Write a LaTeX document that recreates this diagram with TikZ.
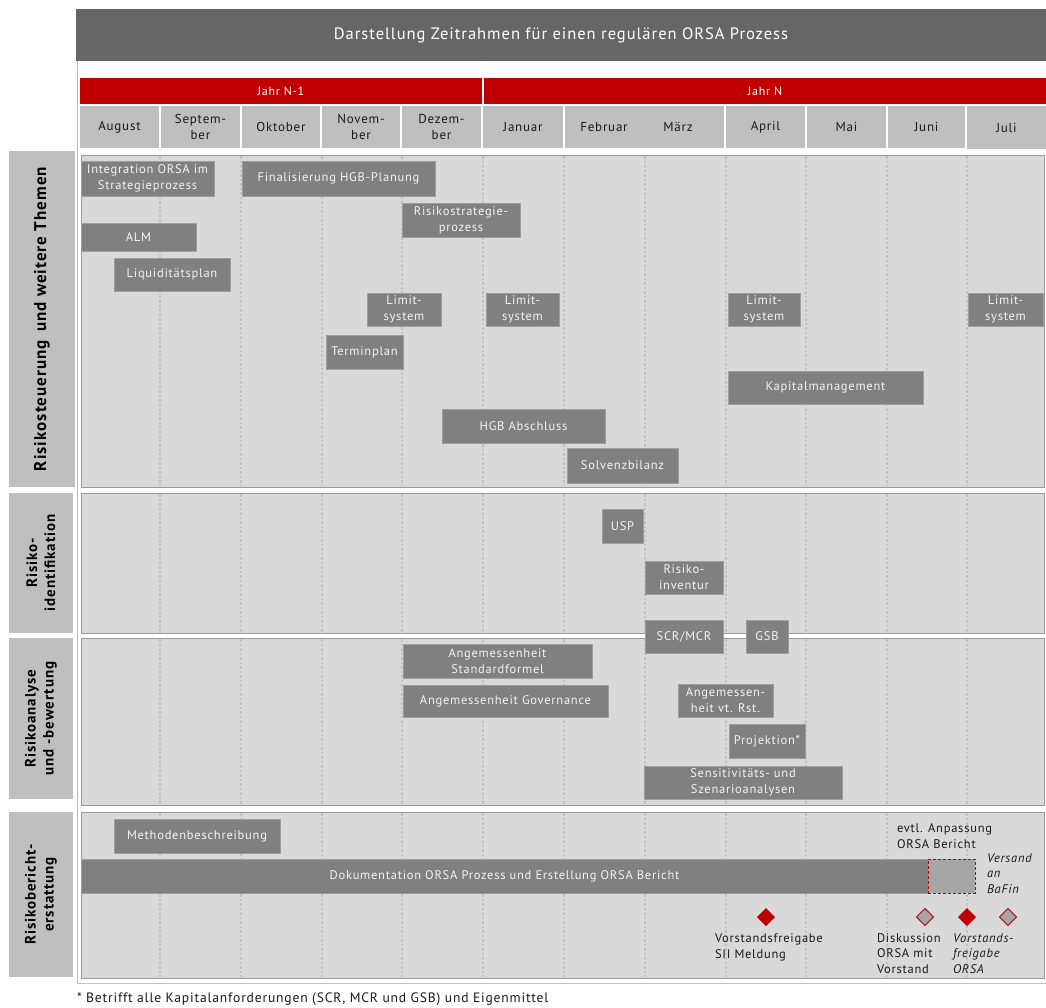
\documentclass[tikz,border=0pt]{standalone}
\usepackage{fontspec}
\setmainfont{PT Sans}[LetterSpace=6]
\usetikzlibrary{shapes.geometric}
\definecolor{titlegray}{HTML}{666666}
\definecolor{yearred}{HTML}{C00000}
\definecolor{cellgray}{HTML}{BFBFBF}
\definecolor{panelgray}{HTML}{D9D9D9}
\definecolor{bargray}{HTML}{808080}
\definecolor{framegray}{HTML}{9A9A9A}
\definecolor{gridgray}{HTML}{C2C2C2}
\definecolor{softgray}{HTML}{A6A6A6}
\definecolor{bartext}{HTML}{F4F4F4}
\definecolor{inktext}{HTML}{1A1A1A}

% rectangle node from its corner coordinates: style, x1, y1, x2, y2, name, text
\newcommand\cellbox[7]{%
  \node[#1, minimum width={#4-#2}, minimum height={#5-#3}]
    (#6) at ({(#2+#4)/2},{(#3+#5)/2}) {#7};}

\begin{document}
\begin{tikzpicture}[x=1pt,y=-1pt,
  every node/.style={inner sep=0pt, outer sep=0pt},
  titlebar/.style={fill=titlegray, text=white, font=\fontsize{16.5}{19}\selectfont},
  yearbar/.style={fill=yearred, text=white, font=\fontsize{12}{14}\selectfont},
  monthcell/.style={fill=cellgray, text=inktext, align=center, font=\fontsize{13}{16}\selectfont},
  sidebox/.style={fill=cellgray},
  sidelabel/.style={rotate=90, align=center, text=black, font=\bfseries\fontsize{15}{18}\selectfont},
  panel/.style={fill=panelgray, draw=framegray, line width=1pt},
  gridline/.style={draw=gridgray, line width=1.1pt, dash pattern=on 2.5pt off 2pt},
  bar/.style={fill=bargray, draw=softgray!80!bargray, line width=0.6pt, text=bartext, align=center,
    font=\fontsize{12.5}{16}\selectfont},
  pending/.style={fill=softgray, draw=yearred, line width=1pt, dash pattern=on 3pt off 2pt},
  note/.style={text=inktext, align=left, font=\fontsize{12.5}{15.3}\selectfont},
  slanted note/.style={note, font=\itshape\fontsize{12.5}{15.3}\selectfont},
  milestone/.style={diamond, minimum size=18pt, fill=yearred},
  openmilestone/.style={diamond, minimum size=17pt, fill=softgray, draw=yearred, line width=1pt},
]
\useasboundingbox (0,0) rectangle (1046,1007);
\fill[white] (0,0) rectangle (1046,1007);

% outer frame lines of the chart area
\draw[framegray!70, line width=0.8pt] (77,61) -- (77,983);
\draw[gridgray, line width=0.8pt] (77,983) -- (1046,983);

% title
\cellbox{titlebar}{76}{9}{1046}{61}{title}{Darstellung Zeitrahmen für einen regulären ORSA Prozess}

% years
\cellbox{yearbar}{80}{78}{482}{104}{yearA}{Jahr N-1}
\cellbox{yearbar}{484}{78}{1046}{104}{yearB}{Jahr N}

% months
\cellbox{monthcell}{80}{106}{159}{148}{mAug}{August}
\cellbox{monthcell}{161}{106}{240}{148}{mSep}{Septem-\\ber}
\cellbox{monthcell}{242}{106}{320}{148}{mOkt}{Oktober}
\cellbox{monthcell}{322}{106}{400}{148}{mNov}{Novem-\\ber}
\cellbox{monthcell}{402}{106}{481}{148}{mDez}{Dezem-\\ber}
\cellbox{monthcell}{483}{106}{563}{148}{mJan}{Januar}
\cellbox{monthcell}{565}{106}{724}{148}{mFebMar}{}
\node[monthcell, fill=none] (mFeb) at (604,127) {Februar};
\node[monthcell, fill=none] (mMar) at (678,127) {März};
\cellbox{monthcell}{726}{106}{805}{148}{mApr}{April}
\cellbox{monthcell}{807}{106}{886}{148}{mMai}{Mai}
\cellbox{monthcell}{888}{106}{965}{148}{mJun}{Juni}
\cellbox{monthcell}{967}{106}{1046}{149}{mJul}{Juli}

% row labels
\cellbox{sidebox}{9}{151}{75}{487}{sA}{}
\cellbox{sidebox}{9}{493}{73}{633}{sB}{}
\cellbox{sidebox}{9}{638}{73}{799}{sC}{}
\cellbox{sidebox}{9}{812}{73}{977}{sD}{}
\node[sidelabel, font=\bfseries\fontsize{17}{20}\selectfont] (lA) at (sA.center) {Risikosteuerung\, und weitere Themen};
\node[sidelabel] (lB) at (sB.center) {Risiko-\\identifikation};
\node[sidelabel] (lC) at (sC.center) {Risikoanalyse\\und -bewertung};
\node[sidelabel] (lD) at (sD.center) {Risikobericht-\\erstattung};

% panels
\cellbox{panel}{81}{155}{1044}{487}{pA}{}
\cellbox{panel}{81}{493}{1044}{633}{pB}{}
\cellbox{panel}{81}{638}{1044}{805}{pC}{}
\cellbox{panel}{81}{812}{1044}{978}{pD}{}

% month boundaries
\foreach \gx in {160,241,322,402,483,564,645,726,806,887,967}{
  \foreach \ya/\yb in {156/486,494/632,639/804,813/977}{
    \draw[gridline] (\gx,\ya) -- (\gx,\yb);
  }
}

% Risikosteuerung und weitere Themen
\cellbox{bar}{81}{161}{214}{196}{bInteg}{Integration ORSA im\\Strategieprozess}
\cellbox{bar}{242}{161}{435}{196}{bFinal}{Finalisierung HGB-Planung}
\cellbox{bar}{402}{203}{520}{237}{bStrat}{Risikostrategie-\\prozess}
\cellbox{bar}{81}{223}{196}{251}{bALM}{ALM}
\cellbox{bar}{114}{258}{230}{291}{bLiq}{Liquiditätsplan}
\cellbox{bar}{367}{293}{441}{326}{bLimA}{Limit-\\system}
\cellbox{bar}{486}{293}{559}{326}{bLimB}{Limit-\\system}
\cellbox{bar}{728}{293}{800}{326}{bLimC}{Limit-\\system}
\cellbox{bar}{968}{293}{1043}{326}{bLimD}{Limit-\\system}
\cellbox{bar}{326}{335}{403}{369}{bTermin}{Terminplan}
\cellbox{bar}{728}{371}{923}{404}{bKapital}{Kapitalmanagement}
\cellbox{bar}{442}{409}{605}{443}{bHGB}{HGB Abschluss}
\cellbox{bar}{567}{448}{678}{483}{bSolv}{Solvenzbilanz}

% Risikoidentifikation
\cellbox{bar}{602}{509}{643}{543}{bUSP}{USP}
\cellbox{bar}{645}{561}{723}{594}{bInv}{Risiko-\\inventur}
\cellbox{bar}{645}{620}{723}{653}{bSCR}{SCR/MCR}
\cellbox{bar}{746}{620}{788}{653}{bGSB}{GSB}

% Risikoanalyse und -bewertung
\cellbox{bar}{403}{644}{592}{678}{bStd}{Angemessenheit\\Standardformel}
\cellbox{bar}{403}{685}{608}{717}{bGov}{Angemessenheit Governance}
\cellbox{bar}{678}{684}{773}{717}{bRst}{Angemessen-\\heit vt. Rst.}
\cellbox{bar}{729}{724}{805}{758}{bProj}{Projektion*}
\cellbox{bar}{644}{766}{842}{799}{bSens}{Sensitivitäts- und\\Szenarioanalysen}

% Risikoberichterstattung
\cellbox{bar}{114}{819}{280}{853}{bMeth}{Methodenbeschreibung}
\cellbox{bar}{81}{859}{928}{893}{bDoku}{Dokumentation ORSA Prozess und Erstellung ORSA Bericht}
\cellbox{pending}{928}{859}{975}{893}{bAnp}{}
\node[note, anchor=base west] (tAnp) at (897,848) {evtl. Anpassung\\ORSA Bericht};
\node[slanted note, anchor=base west] (tVers) at (987,893) {Versand\\an\\BaFin};

\node[milestone] (dSII) at (766,917) {};
\node[openmilestone] (dDisk) at (925,917) {};
\node[milestone] (dFrei) at (967,917) {};
\node[openmilestone] (dVers) at (1008,917) {};
\node[note, anchor=base west] (tSII) at (715,958) {Vorstandsfreigabe\\SII Meldung};
\node[note, anchor=base west] (tDisk) at (877,973) {Diskussion\\ORSA mit\\Vorstand};
\node[slanted note, anchor=base west] (tFrei) at (953,973) {Vorstands-\\freigabe\\ORSA};

% footnote
\node[anchor=base west, text=inktext, font=\fontsize{13.6}{16}\selectfont] (foot) at (77,1002)
  {* Betrifft alle Kapitalanforderungen (SCR, MCR und GSB) und Eigenmittel};
\end{tikzpicture}
\end{document}
